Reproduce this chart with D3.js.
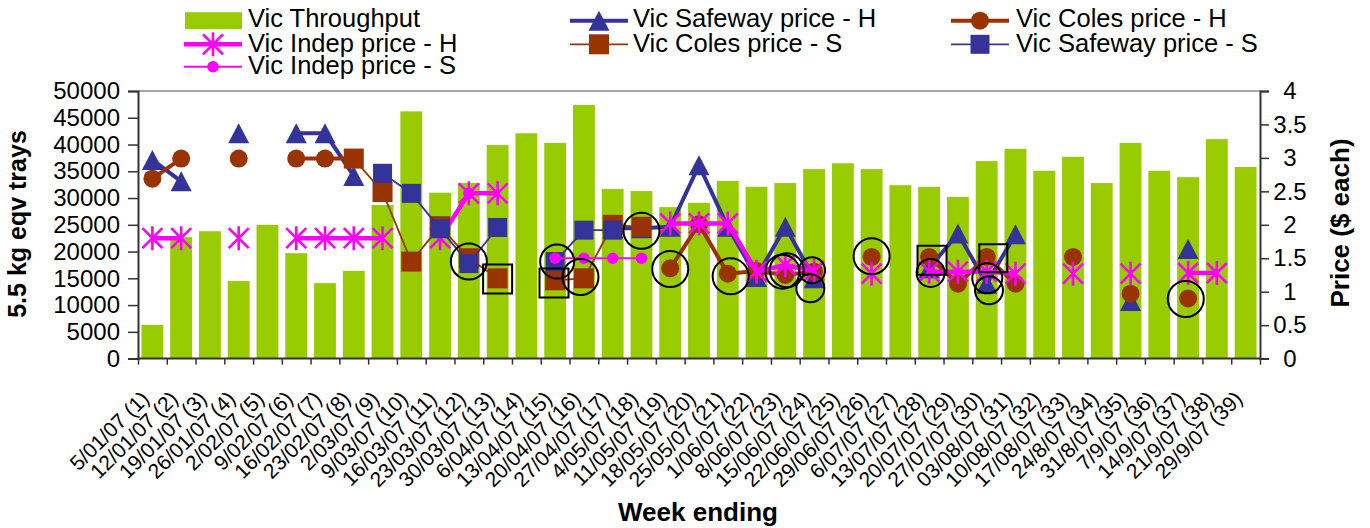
<!DOCTYPE html>
<html><head><meta charset="utf-8">
<script src="https://cdn.jsdelivr.net/npm/d3@7"></script>
<style>
body{margin:0;background:#fff}
svg{display:block}
text{font-family:Arial,"Liberation Sans",Helvetica,sans-serif;fill:#000}
</style>
</head><body>
<svg id="c" width="1370" height="528"></svg>
<script>
// ---------------- DATA ----------------
const weeks = ["5/01/07 (1)","12/01/07 (2)","19/01/07 (3)","26/01/07 (4)","2/02/07 (5)","9/02/07 (6)",
  "16/02/07 (7)","23/02/07 (8)","2/03/07 (9)","9/03/07 (10)","16/03/07 (11)","23/03/07 (12)",
  "30/03/07 (13)","6/04/07 (14)","13/04/07 (15)","20/04/07 (16)","27/04/07 (17)","4/05/07 (18)",
  "11/05/07 (19)","18/05/07 (20)","25/05/07 (21)","1/06/07 (22)","8/06/07 (23)","15/06/07 (24)",
  "22/06/07 (25)","29/06/07 (26)","6/07/07 (27)","13/07/07 (28)","20/07/07 (29)","27/07/07 (30)",
  "03/08/07 (31)","10/08/07 (32)","17/08/07 (33)","24/8/07 (34)","31/8/07 (35)","7/9/07 (36)",
  "14/9/07 (37)","21/9/07 (38)","29/9/07 (39)"];

const throughput = [6300,22700,23800,14500,25000,19700,14100,16400,28700,46200,31000,32800,
  39900,42100,40300,47400,31700,31300,28300,29100,33200,32100,32800,35400,36500,35400,
  32400,32100,30200,36900,39200,35100,37700,32800,40300,35100,33900,41000,35800];

const safewayH = [2.97,2.65,null,3.37,null,3.37,3.37,2.73,null,null,null,null,
  null,null,null,null,1.95,1.95,1.97,2.89,1.97,1.22,1.97,1.20,null,null,
  null,1.35,1.87,1.12,1.86,null,null,null,0.86,null,1.64,null,null];

const colesH = [2.69,2.99,null,2.99,null,2.99,2.99,2.99,null,null,null,null,
  null,null,null,null,null,null,1.35,2.01,1.27,1.31,1.25,1.30,null,1.52,
  null,1.52,1.12,1.52,1.12,null,1.52,null,0.97,null,0.90,null,null];

const indepH = [1.80,1.80,null,1.80,null,1.80,1.80,1.80,1.80,null,1.80,2.47,
  2.47,null,null,null,null,null,2.02,2.02,2.02,1.30,1.40,1.31,null,1.27,
  null,1.30,1.30,1.30,1.27,null,1.27,null,1.27,null,1.28,1.28,null];

const colesS = [null,null,null,null,null,null,null,2.99,2.49,1.45,1.98,1.50,
  1.20,null,1.17,1.20,2.00,1.97,null,null,null,null,null,null,null,null,
  null,null,null,null,null,null,null,null,null,null,null,null,null];

const safewayS = [null,null,null,null,null,null,null,null,2.77,2.47,1.94,1.42,
  1.96,null,1.45,1.92,1.92,null,null,null,null,null,null,null,null,null,
  null,null,null,null,null,null,null,null,null,null,null,null,null];

const indepS = [null,null,null,null,null,null,null,null,null,null,null,2.47,
  null,null,1.50,1.50,1.50,1.50,null,null,null,null,null,null,null,null,
  null,null,null,null,null,null,null,null,null,null,null,null,null];

const leftTicks = [0,5000,10000,15000,20000,25000,30000,35000,40000,45000,50000];
const rightTicks = [0,0.5,1,1.5,2,2.5,3,3.5,4];
const rightTickLabels = ["0","0.5","1","1.5","2","2.5","3","3.5","4"];

// highlight annotations: week position, price, radius / side
const noteCircles = [
  {w:12,p:1.45,r:18},{w:15.07,p:1.45,r:17},{w:15.88,p:1.22,r:18},{w:18,p:1.91,r:18},
  {w:19,p:1.34,r:18},{w:21.1,p:1.23,r:18},{w:22.9,p:1.30,r:17},{w:23.05,p:1.32,r:17},
  {w:23.93,p:1.32,r:13},{w:23.87,p:1.05,r:14},{w:26,p:1.53,r:18},{w:28.05,p:1.28,r:14},
  {w:30.02,p:1.20,r:15},{w:30.08,p:1.02,r:14},{w:36.92,p:0.89,r:18}];
const noteSquares = [
  {w:13,p:1.19,s:29},{w:14.96,p:1.13,s:29},{w:28.1,p:1.47,s:29},{w:30.23,p:1.50,s:28}];

const seriesNames = ["Vic Throughput","Vic Safeway price - H","Vic Coles price - H",
  "Vic Indep price - H","Vic Coles price - S","Vic Safeway price - S","Vic Indep price - S"];

// ---------------- STYLE ----------------
const GREEN="#99CC00", BLUE="#333399", BROWN="#993300", MAG="#FF00FF";
const L=138, R=1260, T=91, B=358.6;

const svg = d3.select("#c");
const x = d3.scaleBand().domain(weeks).range([L,R]).paddingInner(0.24).paddingOuter(0.12);
const xw = d3.scaleLinear().domain([0.5,39.5]).range([L,R]);
const yL = d3.scaleLinear().domain([0,50000]).range([B,T]);
const yR = d3.scaleLinear().domain([0,4]).range([B,T]);
const cx = i => x(weeks[i]) + x.bandwidth()/2;

// top border
svg.append("line").attr("x1",L).attr("x2",R).attr("y1",T).attr("y2",T)
  .attr("stroke","#888").attr("stroke-width",1.5);

// bars
svg.append("g").selectAll("rect").data(throughput).join("rect")
  .attr("x",(d,i)=>x(weeks[i])).attr("width",x.bandwidth())
  .attr("y",d=>yL(d)).attr("height",d=>B-yL(d)).attr("fill",GREEN);

// marker generators
const markers = {
  tri:(g,c)=>g.append("path").attr("d","M0,-10L10.5,10L-10.5,10Z").attr("fill",c),
  circ:(g,c)=>g.append("circle").attr("r",9).attr("fill",c),
  sq:(g,c)=>g.append("rect").attr("x",-10).attr("y",-10).attr("width",20).attr("height",20).attr("fill",c),
  sqs:(g,c)=>g.append("rect").attr("x",-9.5).attr("y",-9.5).attr("width",19).attr("height",19).attr("fill",c),
  star:(g,c)=>g.append("path").attr("d","M-10,-10L10,10M10,-10L-10,10M0,-12L0,12").attr("stroke",c).attr("stroke-width",2.6).attr("fill","none"),
  dot:(g,c)=>g.append("circle").attr("r",5.8).attr("fill",c)
};

const series = [
  {data:safewayH,color:BLUE,w:4,m:"tri"},
  {data:colesH,color:BROWN,w:4,m:"circ"},
  {data:indepH,color:MAG,w:4.5,m:"star"},
  {data:colesS,color:BROWN,w:1.8,m:"sq"},
  {data:safewayS,color:BLUE,w:1.8,m:"sqs"},
  {data:indepS,color:MAG,w:2,m:"dot"}
];

const line = d3.line().defined(d=>d.v!=null).x(d=>cx(d.i)).y(d=>yR(d.v));
series.forEach(s=>{
  const pts = s.data.map((v,i)=>({v,i}));
  const g = svg.append("g");
  g.append("path").datum(pts).attr("d",line).attr("fill","none")
    .attr("stroke",s.color).attr("stroke-width",s.w).attr("stroke-linejoin","round");
  pts.filter(d=>d.v!=null).forEach(d=>{
    const mg = g.append("g").attr("transform",`translate(${cx(d.i)},${yR(d.v)})`);
    markers[s.m](mg,s.color);
  });
});

// annotations
svg.append("g").selectAll("circle").data(noteCircles).join("circle")
  .attr("cx",d=>xw(d.w)).attr("cy",d=>yR(d.p)).attr("r",d=>d.r)
  .attr("fill","none").attr("stroke","#000").attr("stroke-width",2);
svg.append("g").selectAll("rect").data(noteSquares).join("rect")
  .attr("x",d=>xw(d.w)-d.s/2).attr("y",d=>yR(d.p)-d.s/2).attr("width",d=>d.s).attr("height",d=>d.s)
  .attr("fill","none").attr("stroke","#000").attr("stroke-width",2);

// axes
const ax = svg.append("g").attr("transform",`translate(${L},0)`)
  .call(d3.axisLeft(yL).tickValues(leftTicks).tickSize(10).tickPadding(8).tickFormat(d3.format("d")));
const axR = svg.append("g").attr("transform",`translate(${R},0)`)
  .call(d3.axisRight(yR).tickValues(rightTicks).tickSize(9).tickFormat((d,i)=>rightTickLabels[i]));
axR.selectAll("text").attr("x",30).attr("text-anchor","middle");
const xb = d3.scaleLinear().domain([0,39]).range([L,R]);
const axB = svg.append("g").attr("transform",`translate(0,${B})`)
  .call(d3.axisBottom(xb).tickValues(d3.range(40)).tickSize(6).tickFormat(""));
[ax,axR,axB].forEach(a=>{
  a.select(".domain").attr("stroke","#333").attr("stroke-width",2);
  a.selectAll(".tick line").attr("stroke","#333").attr("stroke-width",1.5);
  a.selectAll("text").style("font-size","24px").attr("fill","#000");
});
axB.select(".domain").attr("d",`M${L},0H${R}`);

// x labels
svg.append("g").selectAll("text").data(weeks).join("text")
  .attr("transform",(d,i)=>`translate(${cx(i)-2},400) rotate(-45)`)
  .attr("text-anchor","end").style("font-size","21px").text(d=>d);

// axis titles
svg.append("text").attr("x",698).attr("y",521).attr("text-anchor","middle")
  .style("font-size","26px").style("font-weight","bold").text("Week ending");
svg.append("text").attr("transform","translate(26,224) rotate(-90)").attr("text-anchor","middle")
  .style("font-size","25px").style("font-weight","bold").text("5.5 kg eqv trays");
svg.append("text").attr("transform","translate(1349,223) rotate(-90)").attr("text-anchor","middle")
  .style("font-size","26px").style("font-weight","bold").text("Price ($ each)");

// legend
const legCols = [{lx:184,mx:213,tx:248},{lx:570,mx:599,tx:633},{lx:951,mx:980,tx:1016}];
const legRows = [{ly:20.7,ty:27},{ly:44.3,ty:51.5},{ly:66.7,ty:73.5}];
const legItems = [
  {name:seriesNames[0],type:"bar"},
  {name:seriesNames[1],s:series[0]},
  {name:seriesNames[2],s:series[1]},
  {name:seriesNames[3],s:series[2]},
  {name:seriesNames[4],s:series[3]},
  {name:seriesNames[5],s:series[4]},
  {name:seriesNames[6],s:series[5]}
];
const lg = svg.append("g");
legItems.forEach((it,k)=>{
  const c = legCols[k%3], r = legRows[Math.floor(k/3)];
  if(it.type==="bar"){
    lg.append("rect").attr("x",c.lx+1).attr("y",r.ly-8.5).attr("width",57).attr("height",17).attr("fill",GREEN);
  } else {
    lg.append("line").attr("x1",c.lx).attr("x2",c.lx+58).attr("y1",r.ly).attr("y2",r.ly)
      .attr("stroke",it.s.color).attr("stroke-width",it.s.w);
    markers[it.s.m](lg.append("g").attr("transform",`translate(${c.mx},${r.ly})`),it.s.color);
  }
  lg.append("text").attr("x",c.tx).attr("y",r.ty).style("font-size","25.5px").text(it.name);
});
</script>
</body></html>
